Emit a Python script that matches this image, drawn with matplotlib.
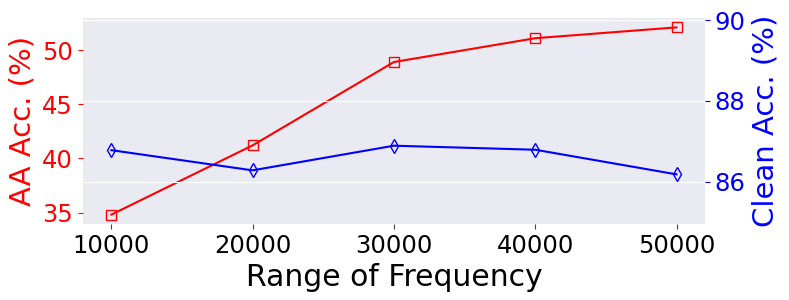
import matplotlib.pyplot as plt
import seaborn as sns

freq = [10000, 20000, 30000, 40000, 50000]
aa_acc = [34.8, 41.2, 48.9, 51.1, 52.1]
clean_acc = [86.78, 86.28, 86.89, 86.79, 86.18]

sns.set_style("darkgrid")
plt.rcParams['font.family'] = ['DejaVu Sans']

fig, ax1 = plt.subplots(figsize=(7.89, 3), dpi=100)
ax1.grid(False)

ax1.plot(freq, aa_acc, color='red', marker='s', markerfacecolor='none', markersize=7, linewidth=1.5)
ax1.set_xlabel('Range of Frequency', fontsize=21.5, color='black')
ax1.set_ylabel('AA Acc. (%)', color='red', fontsize=21)
ax1.set_xticks(freq)
ax1.tick_params(axis='x', labelsize=17.5, labelcolor='black', bottom=True, length=3.5, color='#444444')
ax1.tick_params(axis='y', labelsize=17.5, labelcolor='red', color='red', left=True, length=3.5)

# second axis on the right
ax2 = ax1.twinx()
ax2.plot(freq, clean_acc, color='blue', marker='d', markerfacecolor='none', markersize=7, linewidth=1.5)
ax2.set_ylabel('Clean Acc. (%)', color='blue', fontsize=21)
ax2.set_ylim(84.95, 90.05)
ax2.set_yticks([86, 88, 90])
ax2.tick_params(axis='y', labelsize=17.5, labelcolor='blue', color='blue', right=True, length=3.5)

for ax in (ax1, ax2):
    for s in ax.spines.values():
        s.set_visible(False)

plt.subplots_adjust(left=0.105, right=0.8935, top=0.94, bottom=0.253)
plt.savefig('out.png')
